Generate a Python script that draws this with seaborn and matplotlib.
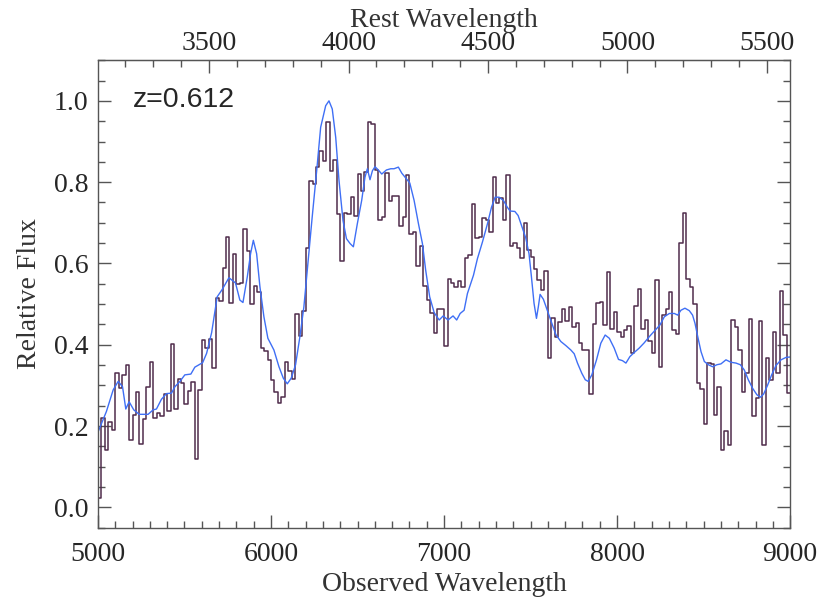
import numpy as np
import pandas as pd
import matplotlib
matplotlib.use("Agg")
import matplotlib.pyplot as plt
import seaborn as sns
from matplotlib.ticker import MultipleLocator, FixedLocator

# observed spectrum, 20 A bins starting at 5000 A
bin_start = 5000
bin_width = 20
flux = [0.024, 0.22, 0.14, 0.21, 0.19, 0.33, 0.293, 0.326, 0.351, 0.165,
        0.228, 0.284, 0.155, 0.218, 0.295, 0.357, 0.219, 0.231, 0.226, 0.279,
        0.238, 0.403, 0.242, 0.315, 0.306, 0.255, 0.287, 0.309, 0.118, 0.289,
        0.411, 0.391, 0.414, 0.342,
        0.516, 0.508, 0.59, 0.665, 0.502, 0.623, 0.55, 0.552, 0.685, 0.630,
        0.500, 0.545, 0.530, 0.392, 0.384, 0.363, 0.314, 0.285, 0.258, 0.271,
        0.357, 0.335, 0.317, 0.475, 0.421, 0.483, 0.639, 0.802, 0.796, 0.838,
        0.877, 0.853, 0.949,
        0.827, 0.854, 0.722, 0.605, 0.725, 0.722, 0.763, 0.716, 0.820, 0.779,
        0.826, 0.949, 0.943, 0.831, 0.707, 0.714, 0.823, 0.753, 0.765, 0.766,
        0.691, 0.714, 0.818, 0.673, 0.677, 0.593, 0.642, 0.544, 0.510, 0.477,
        0.430, 0.489, 0.488, 0.397,
        0.561, 0.553, 0.542, 0.557, 0.542, 0.614, 0.622, 0.747, 0.663, 0.665,
        0.712, 0.708, 0.677, 0.812, 0.748, 0.761, 0.708, 0.818, 0.643, 0.650,
        0.639, 0.613, 0.699, 0.632, 0.616, 0.587, 0.559, 0.534, 0.581, 0.367,
        0.465, 0.418, 0.455,
        0.488, 0.459, 0.492, 0.444, 0.454, 0.405, 0.386, 0.387, 0.280, 0.451,
        0.503, 0.506, 0.449, 0.578, 0.440, 0.480, 0.432, 0.418, 0.436, 0.447,
        0.379, 0.495, 0.537, 0.440, 0.462, 0.409, 0.379, 0.559, 0.346, 0.473,
        0.487, 0.529, 0.436,
        0.426, 0.651, 0.724, 0.561, 0.543, 0.500, 0.307, 0.291, 0.206, 0.356,
        0.352, 0.228, 0.295, 0.140, 0.187, 0.154, 0.461, 0.444, 0.386, 0.283,
        0.330, 0.464, 0.225, 0.268, 0.458, 0.154, 0.368, 0.314, 0.432, 0.331,
        0.533, 0.424, 0.281]

# model / template curve
model_wave = [5000, 5049, 5088, 5117, 5142, 5161, 5180, 5207, 5238, 5290,
              5319, 5338, 5367, 5396, 5425, 5445, 5474, 5502, 5537, 5560,
              5605, 5628, 5657, 5689, 5718, 5757, 5795, 5820, 5838, 5863,
              5882, 5898, 5917, 5936, 5959, 5982, 6017, 6046, 6071, 6094,
              6117, 6142, 6167, 6190, 6213, 6238, 6264, 6287, 6316, 6335,
              6354, 6374, 6393, 6416, 6436, 6457, 6476, 6499, 6524, 6543,
              6557, 6572, 6586, 6601, 6620, 6640, 6667, 6692, 6711, 6736,
              6756, 6779, 6802, 6827, 6852, 6875, 6894, 6917, 6943, 6972,
              6995, 7023, 7052, 7073, 7093, 7116, 7135, 7170, 7193, 7222,
              7251, 7274, 7295, 7318, 7343, 7366, 7382, 7409, 7428, 7447,
              7472, 7491, 7505, 7520, 7534, 7545, 7555, 7574, 7593, 7616,
              7646, 7675, 7704, 7733, 7752, 7771, 7796, 7816, 7833, 7854,
              7881, 7906, 7931, 7955, 7983, 8008, 8031, 8051, 8074, 8099,
              8128, 8157, 8186, 8220, 8248, 8273, 8302, 8331, 8350, 8369,
              8392, 8417, 8436, 8450, 8466, 8485, 8504, 8527, 8552, 8577,
              8600, 8629, 8658, 8687, 8712, 8735, 8758, 8783, 8808, 8828,
              8847, 8870, 8893, 8918, 8947, 8976, 9000]
model_flux = [0.185, 0.236, 0.289, 0.310, 0.297, 0.242, 0.260, 0.240, 0.229, 0.229,
              0.240, 0.242, 0.266, 0.280, 0.281, 0.297, 0.310, 0.326, 0.328, 0.345,
              0.356, 0.379, 0.430, 0.518, 0.536, 0.565, 0.552, 0.510, 0.504, 0.567,
              0.624, 0.657, 0.624, 0.543, 0.469, 0.416, 0.387, 0.346, 0.318, 0.304,
              0.318, 0.351, 0.420, 0.493, 0.600, 0.714, 0.828, 0.935, 0.988, 1.000,
              0.980, 0.910, 0.804, 0.706, 0.661, 0.649, 0.641, 0.698, 0.755, 0.812,
              0.833, 0.806, 0.828, 0.838, 0.830, 0.820, 0.830, 0.833, 0.833, 0.837,
              0.822, 0.810, 0.798, 0.755, 0.698, 0.649, 0.583, 0.518, 0.479, 0.461,
              0.471, 0.461, 0.471, 0.461, 0.477, 0.485, 0.526, 0.571, 0.612, 0.653,
              0.698, 0.738, 0.763, 0.763, 0.755, 0.738, 0.729, 0.728, 0.718, 0.694,
              0.663, 0.624, 0.567, 0.502, 0.465, 0.494, 0.524, 0.512, 0.489, 0.461,
              0.425, 0.408, 0.398, 0.387, 0.378, 0.355, 0.330, 0.314, 0.310, 0.326,
              0.363, 0.404, 0.424, 0.416, 0.392, 0.364, 0.361, 0.355, 0.371, 0.381,
              0.392, 0.405, 0.420, 0.436, 0.449, 0.469, 0.477, 0.477, 0.473, 0.485,
              0.490, 0.484, 0.473, 0.453, 0.420, 0.383, 0.359, 0.351, 0.346, 0.351,
              0.353, 0.363, 0.357, 0.355, 0.351, 0.338, 0.314, 0.293, 0.277, 0.271,
              0.279, 0.301, 0.326, 0.349, 0.363, 0.369, 0.370]

redshift = 0.612
rest_ticks = [3500, 4000, 4500, 5000, 5500]

edges = bin_start + bin_width * np.arange(len(flux) + 1)
spec = pd.DataFrame({"wave": edges, "flux": flux + [flux[-1]]})
model = pd.DataFrame({"wave": model_wave, "flux": model_flux})

sns.set_style("ticks")
plt.rcParams["font.family"] = ["Liberation Serif", "DejaVu Serif"]

fig = plt.figure(figsize=(8.3, 6.08), dpi=100)
ax = fig.add_axes([0.118, 0.132, 0.834, 0.769])

sns.lineplot(data=spec, x="wave", y="flux", drawstyle="steps-post",
             color="#4f2c4c", lw=1.1, estimator=None, ax=ax)
sns.lineplot(data=model, x="wave", y="flux", color="#3f6ff5", lw=1.0,
             estimator=None, ax=ax)

ax.set_xlim(5000, 9000)
ax.set_ylim(-0.05, 1.1)
ax.xaxis.set_major_locator(MultipleLocator(1000))
ax.xaxis.set_minor_locator(MultipleLocator(100))
ax.yaxis.set_major_locator(MultipleLocator(0.2))
ax.yaxis.set_minor_locator(MultipleLocator(0.05))
ax.yaxis.set_major_formatter(plt.FuncFormatter(lambda v, p: f"{v:.1f}"))

axcol = "#555555"
for s in ax.spines.values():
    s.set_color(axcol)
    s.set_linewidth(1.0)
ax.tick_params(which="both", direction="in", color=axcol, labelsize=20,
               right=True, top=False)
ax.tick_params(axis="x", pad=10)
ax.tick_params(axis="y", pad=7)
ax.tick_params(which="major", length=9.5, width=1.0)
ax.tick_params(which="minor", length=5, width=1.0)

ax.set_xlabel("Observed Wavelength", fontsize=20, color="#333333", labelpad=4)
ax.set_ylabel("Relative Flux", fontsize=20, color="#333333", labelpad=8)

top = ax.secondary_xaxis("top", functions=(lambda x: x / (1 + redshift),
                                           lambda x: x * (1 + redshift)))
top.xaxis.set_major_locator(FixedLocator(rest_ticks))
top.xaxis.set_minor_locator(MultipleLocator(100))
top.tick_params(which="both", direction="in", color=axcol, labelsize=20, pad=3)
top.tick_params(which="major", length=9.5, width=1.0)
top.tick_params(which="minor", length=5, width=1.0)
top.spines["top"].set_color(axcol)
top.set_xlabel("Rest Wavelength", fontsize=20, color="#333333", labelpad=3)

ax.text(0.05, 0.915, f"z={redshift}", transform=ax.transAxes, fontsize=20.5,
        family=["Liberation Sans", "DejaVu Sans"], ha="left", va="center")

fig.savefig("out.png", dpi=100)
